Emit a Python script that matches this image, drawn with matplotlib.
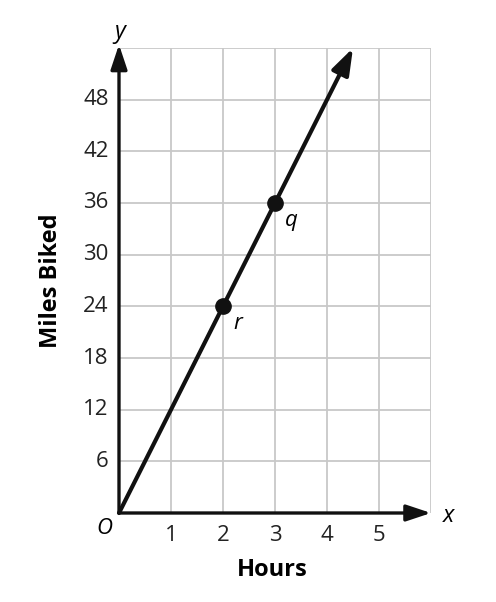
import matplotlib.pyplot as plt

plt.rcParams['font.family'] = ['Open Sans', 'DejaVu Sans']

x_ticks = [1, 2, 3, 4, 5]
y_ticks = [6, 12, 18, 24, 30, 36, 42, 48]
line_x = [0, 4.5]
line_y = [0, 54]
pt_x = [2, 3]
pt_y = [24, 36]
pt_labels = ['r', 'q']

fig = plt.figure(figsize=(4.96, 6.02), dpi=100)
ax = fig.add_axes([119/496, 89/602, 312/496, 465/602])
ax.set_xlim(0, 6)
ax.set_ylim(0, 54)

# grid
for gx in range(1, 7):
    ax.axvline(gx, color='#c8c8c8', lw=1.3, zorder=0)
for gy in range(6, 55, 6):
    ax.axhline(gy, color='#c8c8c8', lw=1.3, zorder=0)

for s in ax.spines.values():
    s.set_visible(False)
ax.set_xticks([])
ax.set_yticks([])

# axes with arrows
arrow = '-|>,head_length=1.5,head_width=0.5'
ax.annotate('', xy=(6.0, 0), xytext=(0, 0),
            arrowprops=dict(arrowstyle=arrow, lw=2.4, color='#111111', shrinkA=0, shrinkB=0),
            annotation_clip=False)
ax.annotate('', xy=(0, 54.4), xytext=(0, 0),
            arrowprops=dict(arrowstyle=arrow, lw=2.4, color='#111111', shrinkA=0, shrinkB=0),
            annotation_clip=False)

# the line
ax.annotate('', xy=(line_x[1], line_y[1]), xytext=(line_x[0], line_y[0]),
            arrowprops=dict(arrowstyle='-|>,head_length=1.6,head_width=0.55', lw=3.0, color='#111111',
                            shrinkA=0, shrinkB=0),
            annotation_clip=False)
ax.plot(pt_x, pt_y, 'o', color='#111111', ms=11, zorder=5)
for px, py, lab in zip(pt_x, pt_y, pt_labels):
    ax.text(px + 0.2, py - 2.0, lab, fontsize=16, style='italic', ha='left', va='center')

# tick labels
for t in x_ticks:
    ax.text(t, -2.6, str(t), fontsize=16, ha='center', va='center', color='#222222')
for t in y_ticks:
    ax.text(-0.2, t, str(t), fontsize=16, ha='right', va='center', color='#222222')

ax.text(-0.28, -1.8, 'O', fontsize=16, style='italic', ha='center', va='center')
ax.text(6.33, -0.3, 'x', fontsize=17, style='italic', ha='center', va='center')
ax.text(0.02, 55.8, 'y', fontsize=17, style='italic', ha='center', va='center')

ax.text(2.95, -6.6, 'Hours', fontsize=17, fontweight='bold', ha='center', va='center')
ax.text(-1.3, 27, 'Miles Biked', fontsize=17, fontweight='bold', ha='center', va='center', rotation=90)

fig.savefig('out.png', dpi=100)
